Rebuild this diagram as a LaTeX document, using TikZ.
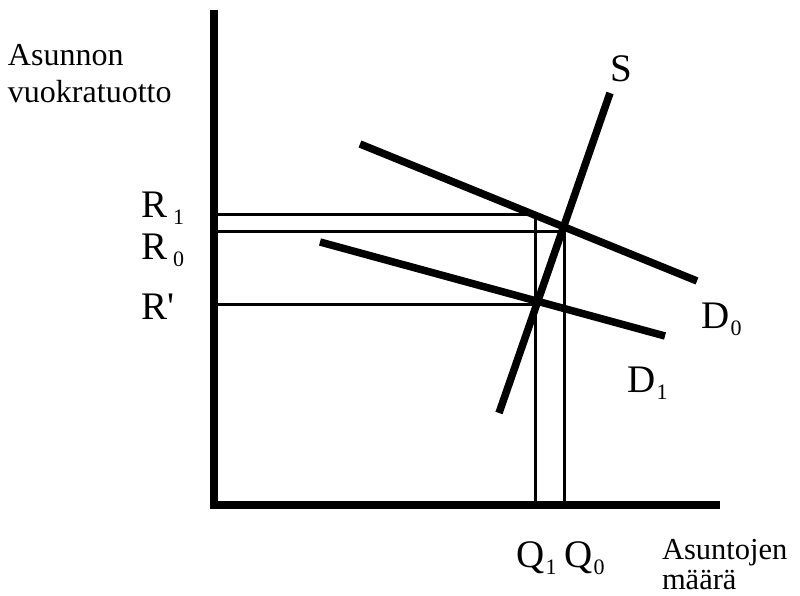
\documentclass[tikz,border=0pt]{standalone}
\usepackage{fontspec}
\setmainfont{Liberation Serif}
\newfontfamily\tnr{Liberation Serif}
\begin{document}
\begin{tikzpicture}[x=1pt,y=-1pt,
  axis/.style={line width=8pt},
  curve/.style={line width=7.5pt},
  guide/.style={line width=3pt},
  lbl/.style={anchor=base west,inner sep=0pt,outer sep=0pt,font=\tnr\fontsize{32}{30}\selectfont},
  xlbl/.style={anchor=base west,inner sep=0pt,outer sep=0pt,font=\tnr\fontsize{30.5}{30}\selectfont},
  big/.style={anchor=base west,inner sep=0pt,outer sep=0pt,font=\tnr\fontsize{39}{39}\selectfont}]
\newcommand\subx[2][1.5pt]{\kern#1\raisebox{-7pt}{\fontsize{22}{22}\selectfont #2}}
\useasboundingbox (0,0) rectangle (800,596);
% axes
\coordinate (top) at (214,10);
\coordinate (orig) at (214,509);
\coordinate (xstart) at (210,505);
\coordinate (xend) at (720,505);
\draw[axis] (top) -- (orig);
\draw[axis] (xstart) -- (xend);
% guide lines
\coordinate (r1a) at (216,214.5);
\coordinate (r1b) at (535,214.5);
\coordinate (r0a) at (216,231.5);
\coordinate (r0b) at (564,231.5);
\coordinate (rpa) at (216,304.5);
\coordinate (rpb) at (537,304.5);
\coordinate (q1b) at (535,502);
\coordinate (q0b) at (564,502);
\draw[guide] (r1a) -- (r1b) -- (q1b);
\draw[guide] (r0a) -- (r0b) -- (q0b);
\draw[guide] (rpa) -- (rpb);
% demand and supply
\coordinate (d0a) at (360,144);
\coordinate (d0b) at (697,281);
\coordinate (d1a) at (320,242);
\coordinate (d1b) at (665,336);
\coordinate (sa) at (499,413);
\coordinate (sb) at (610,93);
\draw[curve] (d0a) -- (d0b);
\draw[curve] (d1a) -- (d1b);
\draw[curve] (sa) -- (sb);
% labels
\node[lbl] (ylab1) at (8,66) {Asunnon};
\node[lbl] (ylab2) at (8,103) {vuokratuotto};
\node[xlbl] (xlab1) at (662,559) {Asuntojen};
\node[xlbl] (xlab2) at (662,589) {määrä};
\node[big] (R1) at (141,217) {R\subx[6pt]{1}};
\node[big] (R0) at (141,259) {R\subx[6pt]{0}};
\node[big] (Rp) at (141,319) {R\kern1pt\textquotesingle};
\node[big] (Q1) at (516,567) {Q\subx{1}};
\node[big] (Q0) at (564,567) {Q\subx{0}};
\node[big] (Slab) at (610,82) {S};
\node[big] (D0) at (701,328) {D\subx{0}};
\node[big] (D1) at (627,392) {D\subx{1}};
\end{tikzpicture}
\end{document}
